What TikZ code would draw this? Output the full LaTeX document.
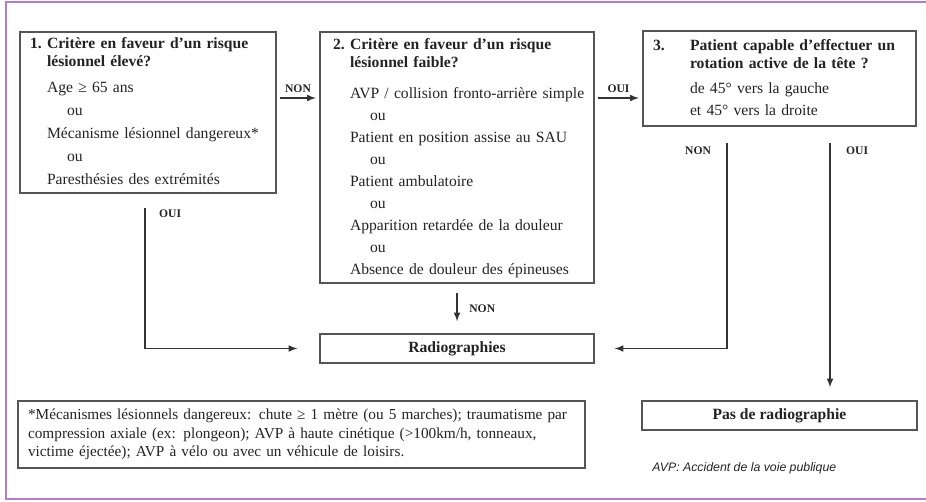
\documentclass[tikz,border=0pt]{standalone}
\usepackage{fontspec}
\setmainfont{Liberation Serif}
\newfontfamily\notefont{Liberation Sans}
\usetikzlibrary{positioning}
\definecolor{cadre}{RGB}{180,125,200}
\definecolor{trait}{RGB}{85,85,85}
\definecolor{texte}{RGB}{35,35,35}
\tikzset{
  boite/.style={draw=trait, line width=0.8pt, inner ysep=0pt, align=left, text=texte,
    font=\fontsize{8.9}{12.5}\selectfont},
  fleche/.style={-latex, line width=0.7pt, draw=black!80},
  etiq/.style={font=\fontsize{6.6}{7}\selectfont\bfseries, inner sep=1pt, text=texte},
}
\begin{document}
\begin{tikzpicture}[x=0.02cm,y=-0.02cm]
        \useasboundingbox (0,0) rectangle (926,501);
        % cadre
        \draw[cadre, line width=0.8pt] (926,2) -- (6,2) -- (6,499) -- (926,499);
        % boites
        \node[boite, inner xsep=0.2cm, text width=4.72cm, minimum height=3.22cm] (crit1) at (148,112.5) {%
          \begin{tabular}{@{}p{0.34cm}@{}l@{}}
          \textbf{1.} & \textbf{Critère en faveur d'un risque}\\[-2.3pt]
          & \textbf{lésionnel élevé?}\\[2.3pt]
          & Age ≥ 65 ans\\[0.6pt]
          & \hspace{0.4cm}ou\\[0.6pt]
          & Mécanisme lésionnel dangereux*\\[0.6pt]
          & \hspace{0.4cm}ou\\[0.6pt]
          & Paresthésies des extrémités
          \end{tabular}};
        \node[boite, inner xsep=0.26cm, text width=4.96cm, minimum height=5.02cm] (crit2) at (457,157.5) {%
          \begin{tabular}{@{}p{0.34cm}@{}l@{}}
          \textbf{2.} & \textbf{Critère en faveur d'un risque}\\[-2.3pt]
          & \textbf{lésionnel faible?}\\[5.1pt]
          & AVP / collision fronto-arrière simple\\
          & \hspace{0.4cm}ou\\
          & Patient en position assise au SAU\\
          & \hspace{0.4cm}ou\\
          & Patient ambulatoire\\
          & \hspace{0.4cm}ou\\
          & Apparition retardée de la douleur\\
          & \hspace{0.4cm}ou\\
          & Absence de douleur des épineuses
          \end{tabular}};
        \node[boite, inner xsep=0.2cm, text width=5.06cm, minimum height=1.9cm] (crit3) at (779.5,78.5) {%
          \begin{tabular}{@{}p{0.74cm}@{}l@{}}
          \textbf{3.} & \textbf{Patient capable d'effectuer un}\\[-2.3pt]
          & \textbf{rotation active de la tête ?}\\[1.7pt]
          & de 45° vers la gauche\\
          & et 45° vers la droite
          \end{tabular}};
        \node[boite, minimum width=5.48cm, minimum height=0.58cm, align=center] (radio) at (457,348.5) {\textbf{Radiographies}};
        \node[boite, minimum width=5.5cm, minimum height=0.58cm, align=center] (pas) at (779.5,415.5) {\textbf{Pas de radiographie}};
        \node[boite, inner xsep=0.2cm, text width=10.94cm, minimum height=1.34cm,
          font=\fontsize{8.7}{10.5}\selectfont] (note) at (301.5,434.5) {%
          *Mécanismes lésionnels dangereux: chute ≥ 1 mètre (ou 5 marches); traumatisme par\\
          compression axiale (ex: plongeon); AVP à haute cinétique (>100km/h, tonneaux,\\
          victime éjectée); AVP à vélo ou avec un véhicule de loisirs.};
        \node[anchor=west, text=texte, inner sep=0pt, font=\notefont\itshape\fontsize{7}{8}\selectfont] (avp) at (652,468) {AVP: Accident de la voie publique};
        % fleches
        \coordinate (h1) at (0,98);
        \coordinate (c1) at (145,208);
        \coordinate (c3) at (727,143);
        \coordinate (c4) at (830,143);
        \draw[fleche, shorten <=2pt, shorten >=2pt] (crit1.east |- h1) -- node[etiq, above=2pt] (l1) {NON} (crit2.west |- h1);
        \draw[fleche, shorten <=2pt, shorten >=2pt] (crit2.east |- h1) -- node[etiq, above=2pt] (l2) {OUI} (crit3.west |- h1);
        \draw[fleche, shorten >=0.44cm] (c1) |- (radio.west);
        \node[etiq, anchor=north west] (l3) at ([xshift=0.24cm]c1) {OUI};
        \draw[fleche, shorten <=0.18cm, shorten >=0.24cm] (crit2.south) -- node[etiq, right=0.2cm] (l4) {NON} (radio.north);
        \draw[fleche, shorten >=0.4cm] (c3) |- (radio.east);
        \node[etiq, anchor=north east] (l5) at ([xshift=-0.28cm, yshift=-0.04cm]c3) {NON};
        \draw[fleche, shorten >=0.26cm] (c4) -- (c4 |- pas.north);
        \node[etiq, anchor=north west] (l6) at ([xshift=0.28cm, yshift=-0.04cm]c4) {OUI};
\end{tikzpicture}
\end{document}
